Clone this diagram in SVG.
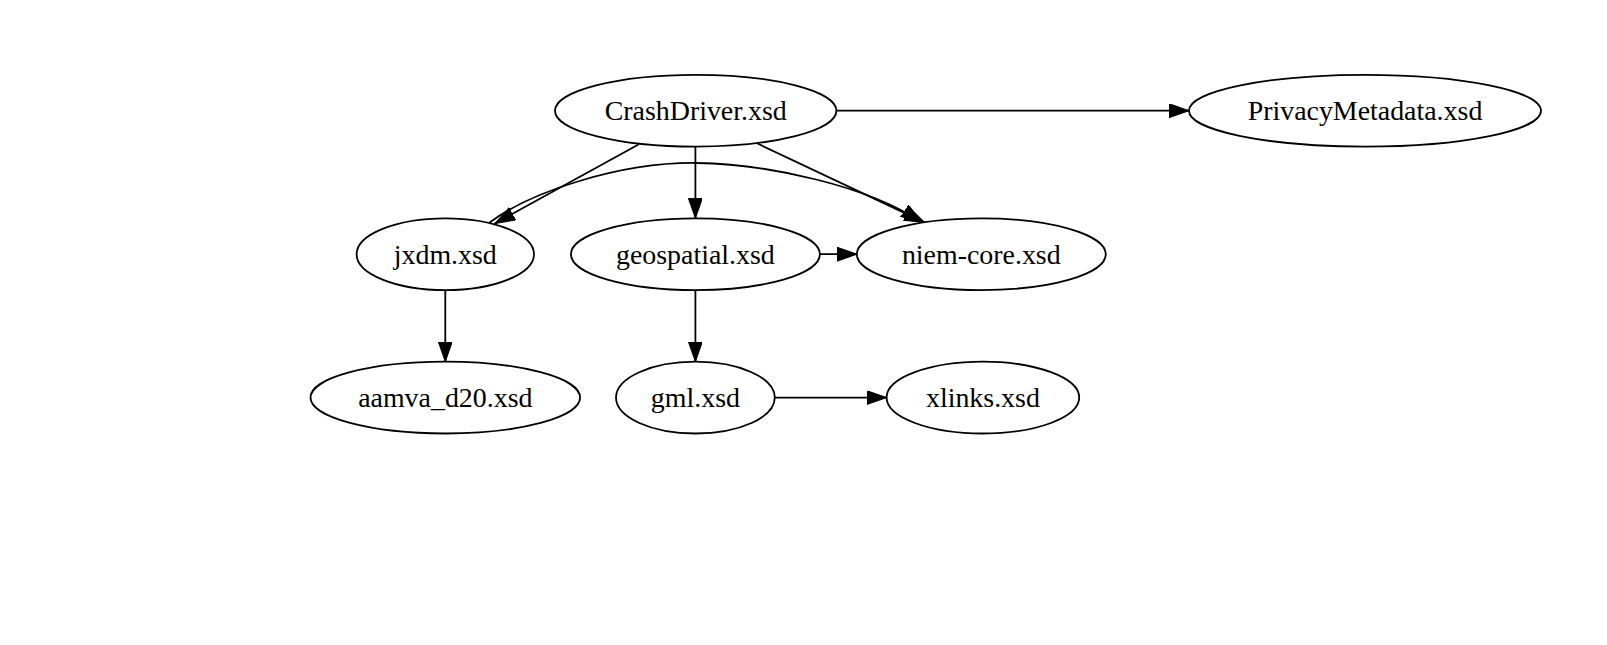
<svg xmlns="http://www.w3.org/2000/svg" width="1607" height="645" viewBox="0 0 1607 645">
<style>
.n ellipse{fill:none;stroke:#000;stroke-width:1.8}
.n text{font-family:"Liberation Serif","Times New Roman",serif;font-size:27.9px;text-anchor:middle;fill:#000}
#edges path{fill:none;stroke:#000;stroke-width:1.8}
</style>
<defs>
<marker id="ah" markerUnits="userSpaceOnUse" markerWidth="22" markerHeight="16" refX="20" refY="7" orient="auto">
<path d="M0,0 L20,7 L0,14 z" fill="#000" stroke="#000" stroke-width="1"/>
</marker>
</defs>
<rect width="1607" height="645" fill="#fff"/>
<g id="edges">
<path d="M836.5,110.7 L1189,110.7" marker-end="url(#ah)"/>
<path d="M695.4,146.7 L695.4,218.3" marker-end="url(#ah)"/>
<path d="M638.5,144.5 L495,223.4" marker-end="url(#ah)"/>
<path d="M757.4,143.5 L924.5,222.4" marker-end="url(#ah)"/>
<path d="M489,223 C530,192 620,162 697,163 C770,164 870,187 921,222" marker-end="url(#ah)"/>
<path d="M819.9,254.2 L857,254.2" marker-end="url(#ah)"/>
<path d="M695.4,290.1 L695.4,361.7" marker-end="url(#ah)"/>
<path d="M445.3,290.1 L445.3,361.7" marker-end="url(#ah)"/>
<path d="M774.8,397.6 L886.6,397.6" marker-end="url(#ah)"/>
</g>
<g id="CrashDriver" class="n"><ellipse cx="695.7" cy="110.7" rx="140.7" ry="35.9"/><text x="695.7" y="120.4">CrashDriver.xsd</text></g>
<g id="PrivacyMetadata" class="n"><ellipse cx="1365" cy="110.7" rx="176" ry="35.9"/><text x="1365" y="120.4">PrivacyMetadata.xsd</text></g>
<g id="jxdm" class="n"><ellipse cx="445.3" cy="254.2" rx="88.7" ry="35.9"/><text x="445.3" y="263.9">jxdm.xsd</text></g>
<g id="geospatial" class="n"><ellipse cx="695.4" cy="254.2" rx="124.5" ry="35.9"/><text x="695.4" y="263.9">geospatial.xsd</text></g>
<g id="niem-core" class="n"><ellipse cx="981.3" cy="254.2" rx="124.5" ry="35.9"/><text x="981.3" y="263.9">niem-core.xsd</text></g>
<g id="aamva_d20" class="n"><ellipse cx="445.3" cy="397.6" rx="134.8" ry="35.9"/><text x="445.3" y="407.3">aamva_d20.xsd</text></g>
<g id="gml" class="n"><ellipse cx="695.4" cy="397.6" rx="79.4" ry="35.9"/><text x="695.4" y="407.3">gml.xsd</text></g>
<g id="xlinks" class="n"><ellipse cx="982.9" cy="397.6" rx="96.3" ry="35.9"/><text x="982.9" y="407.3">xlinks.xsd</text></g>
</svg>
